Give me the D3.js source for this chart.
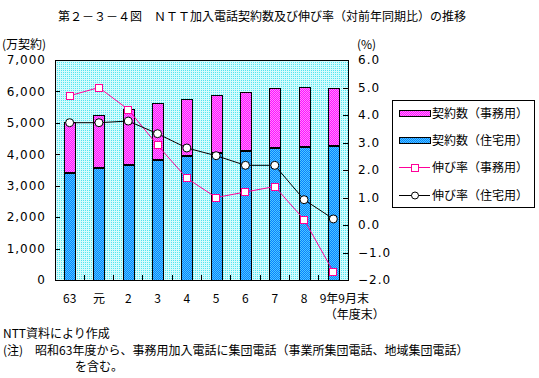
<!DOCTYPE html>
<html>
<head>
<meta charset="utf-8">
<script src="https://cdn.jsdelivr.net/npm/d3@7"></script>
<style>
  body { margin: 0; background: #fff; }
  text { font-family: "Noto Sans CJK JP", "Noto Sans", sans-serif; fill: #000; }
</style>
</head>
<body>
<svg id="chart" width="539" height="378"></svg>
<script>
// categories (fiscal year ends, 昭和63 .. 平成9年9月末)
const years = ["63", "元", "2", "3", "4", "5", "6", "7", "8", "9年9月末"];
// 契約数 (万契約)
const residential = [3450, 3585, 3700, 3850, 3965, 4080, 4135, 4220, 4265, 4285];
const business = [1570, 1655, 1730, 1780, 1795, 1805, 1835, 1880, 1865, 1815];
// 伸び率 (%)
const rateBusiness = [4.7, 5.0, 4.2, 2.9, 1.7, 1.0, 1.2, 1.4, 0.2, -1.7];
const rateResidential = [3.72, 3.72, 3.78, 3.32, 2.8, 2.52, 2.17, 2.17, 0.92, 0.22];
const leftTicks = [0, 1000, 2000, 3000, 4000, 5000, 6000, 7000];
const rightTicks = [-2, -1, 0, 1, 2, 3, 4, 5, 6];

const svg = d3.select("#chart");

margin = { top: 60, right: 191, bottom: 98, left: 55 }
width = +svg.attr("width") - margin.left - margin.right
height = +svg.attr("height") - margin.top - margin.bottom

// soft dither patterns (low contrast so the colour survives)
const defs = svg.append("defs");
function dither(id, c1, c2, onlyOne) {
  const p = defs.append("pattern").attr("id", id)
    .attr("patternUnits", "userSpaceOnUse").attr("width", 2).attr("height", 2);
  p.append("rect").attr("width", 2).attr("height", 2).attr("fill", c2);
  p.append("rect").attr("width", 1).attr("height", 1).attr("fill", c1);
  if (!onlyOne) p.append("rect").attr("x", 1).attr("y", 1).attr("width", 1).attr("height", 1).attr("fill", c1);
}
dither("bg", "#4ee6f0", "#d4fbfc", true);
dither("pMag", "#ff10ff", "#ff88ff", false);
dither("pBlue", "#0a80ff", "#4cc8ff", false);

svg.append("text").attr("x", 262).attr("y", 21).attr("text-anchor", "middle")
  .style("font-size", "12px")
  .text("第２－３－４図　ＮＴＴ加入電話契約数及び伸び率（対前年同期比）の推移");

g = svg.append("g").attr("transform", "translate(" + margin.left + "," + margin.top + ")")
  .attr("shape-rendering", "crispEdges");

const x = d3.scaleBand().domain(years).range([0, width]);
const yL = d3.scaleLinear().domain([0, 7000]).range([height, 0]);
const yR = d3.scaleLinear().domain([-2, 6]).range([height, 0]);

g.append("rect").attr("width", width).attr("height", height).attr("fill", "url(#bg)");

// stacked bars
const bw = 11;
const bars = g.append("g");
years.forEach((yr, i) => {
  const bx = Math.round(x(yr) + x.bandwidth() / 2 - bw / 2);
  const yRes = Math.round(yL(residential[i]));
  const yTop = Math.round(yL(residential[i] + business[i]));
  bars.append("rect")
    .attr("x", bx).attr("width", bw)
    .attr("y", yRes).attr("height", height - yRes)
    .attr("fill", "url(#pBlue)").attr("stroke", "#000");
  bars.append("rect")
    .attr("x", bx).attr("width", bw)
    .attr("y", yTop).attr("height", yRes - yTop)
    .attr("fill", "url(#pMag)").attr("stroke", "#000");
  bars.append("line")
    .attr("x1", bx).attr("x2", bx + bw)
    .attr("y1", yRes + 1).attr("y2", yRes + 1)
    .attr("stroke", "#000").attr("stroke-width", 2);
});

// ticks between categories along the bottom
g.append("g").selectAll("line").data(years.slice(1)).join("line")
  .attr("x1", d => x(d)).attr("x2", d => x(d))
  .attr("y1", height).attr("y2", height - 5).attr("stroke", "#000");

// left axis
const axL = g.append("g").call(d3.axisLeft(yL).tickValues(leftTicks).tickSize(-5).tickPadding(10)
  .tickFormat(d3.format(",")));
axL.select(".domain").remove();
axL.selectAll("line").attr("stroke", "#000");
axL.selectAll("text").style("font-size", "12px").style("letter-spacing", "1px").style("font-family", "'DejaVu Sans', sans-serif").attr("dx", "1");

// right axis
const axR = g.append("g").attr("transform", "translate(" + width + ",0)")
  .call(d3.axisRight(yR).tickValues(rightTicks).tickSize(-5).tickPadding(10)
  .tickFormat(d3.format(".1f")));
axR.select(".domain").remove();
axR.selectAll("line").attr("stroke", "#000");
axR.selectAll("text").style("font-size", "12px").style("letter-spacing", "1px").style("font-family", "'DejaVu Sans', sans-serif");

g.append("rect").attr("width", width).attr("height", height)
  .attr("fill", "none").attr("stroke", "#000");

// x labels
g.append("g").selectAll("text").data(years).join("text")
  .attr("x", (d, i) => i == years.length - 1 ? x(d) + 1 : x(d) + x.bandwidth() / 2)
  .attr("y", height + 23)
  .attr("text-anchor", (d, i) => i == years.length - 1 ? "start" : "middle")
  .style("font-size", "12px")
  .text(d => d);
g.append("text").attr("x", x(years[9]) + 6).attr("y", height + 39)
  .style("font-size", "12px").text("（年度末）");

// lines
const lineR = d3.line()
  .x((d, i) => x(years[i]) + x.bandwidth() / 2)
  .y(d => yR(d));
const lines = g.append("g").attr("shape-rendering", "auto");
lines.append("path").datum(rateBusiness).attr("d", lineR)
  .attr("fill", "none").attr("stroke", "#ff0099");
lines.append("path").datum(rateResidential).attr("d", lineR)
  .attr("fill", "none").attr("stroke", "#000");
lines.selectAll("rect.m").data(rateBusiness).join("rect").attr("class", "m")
  .attr("x", (d, i) => x(years[i]) + x.bandwidth() / 2 - 3.5)
  .attr("y", d => yR(d) - 3.5)
  .attr("width", 7).attr("height", 7)
  .attr("fill", "#fff").attr("stroke", "#ff0099").attr("shape-rendering", "crispEdges");
lines.selectAll("circle").data(rateResidential).join("circle")
  .attr("cx", (d, i) => x(years[i]) + x.bandwidth() / 2)
  .attr("cy", d => yR(d))
  .attr("r", 4)
  .attr("fill", "#fff").attr("stroke", "#000");

// axis titles
svg.append("text").attr("x", 2).attr("y", 49).style("font-size", "12px").text("(万契約)");
svg.append("text").attr("x", 357).attr("y", 49).style("font-size", "12px").text("(%)");

// legend
const legendItems = [
  { name: "契約数（事務用）", type: "bar", fill: "url(#pMag)" },
  { name: "契約数（住宅用）", type: "bar", fill: "url(#pBlue)" },
  { name: "伸び率（事務用）", type: "line", color: "#ff0099", marker: "square" },
  { name: "伸び率（住宅用）", type: "line", color: "#000", marker: "circle" }
];
const lg = svg.append("g").attr("transform", "translate(392,100)");
lg.append("rect").attr("width", 142).attr("height", 107)
  .attr("fill", "#fff").attr("stroke", "#000").attr("shape-rendering", "crispEdges");
legendItems.forEach((d, i) => {
  const ly = 13 + Math.round(i * 27.2);
  const item = lg.append("g").attr("transform", "translate(0," + ly + ")");
  if (d.type == "bar") {
    item.append("rect").attr("x", 7).attr("y", -3).attr("width", 31).attr("height", 6)
      .attr("fill", d.fill).attr("stroke", "#000").attr("shape-rendering", "crispEdges");
  } else {
    item.append("line").attr("x1", 7).attr("x2", 38).attr("y1", 0.5).attr("y2", 0.5).attr("stroke", d.color);
    if (d.marker == "square") {
      item.append("rect").attr("x", 19.5).attr("y", -3).attr("width", 7).attr("height", 7)
        .attr("fill", "#fff").attr("stroke", d.color).attr("shape-rendering", "crispEdges");
    } else {
      item.append("circle").attr("cx", 23).attr("cy", 0.5).attr("r", 3.5)
        .attr("fill", "#fff").attr("stroke", d.color);
    }
  }
  item.append("text").attr("x", 40).attr("y", 5).style("font-size", "12px").text(d.name);
});

// notes
svg.append("text").attr("x", 3).attr("y", 338).style("font-size", "12px").text("NTT資料により作成");
svg.append("text").attr("x", 3).attr("y", 355).style("font-size", "12px")
  .text("(注)　昭和63年度から、事務用加入電話に集団電話（事業所集団電話、地域集団電話）");
svg.append("text").attr("x", 75).attr("y", 371).style("font-size", "12px").text("を含む。");
</script>
</body>
</html>
